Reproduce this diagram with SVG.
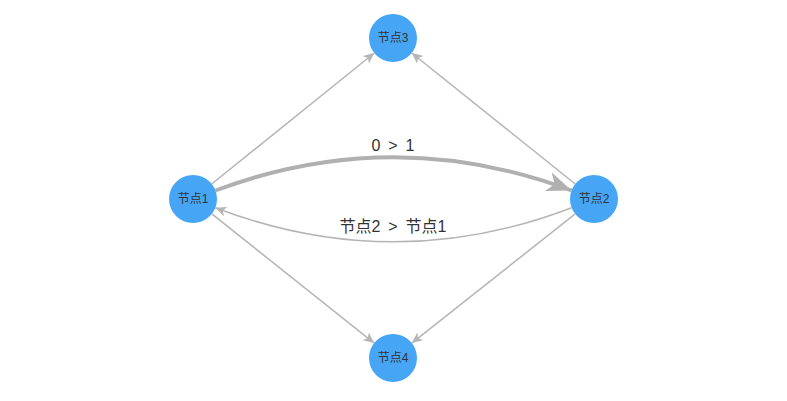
<svg xmlns="http://www.w3.org/2000/svg" width="787" height="401" viewBox="0 0 787 401">
  <style>
    .node circle { fill: #46a6f5; }
    .node text { font-family: "Liberation Sans", "Noto Sans CJK SC", sans-serif; font-size: 12px; fill: #333; text-anchor: middle; dominant-baseline: central; }
    .edge { fill: none; stroke: #b5b5b5; stroke-width: 1.5; }
    .edge.thick { stroke: #b0b0b0; stroke-width: 4; }
    .elabel { font-family: "Liberation Sans", "Noto Sans CJK SC", sans-serif; font-size: 16px; fill: #333; text-anchor: middle; word-spacing: 3.5px; }
  </style>
  <defs>
    <marker id="arrow" markerUnits="userSpaceOnUse" markerWidth="12" markerHeight="10" refX="11" refY="5" orient="auto">
      <path d="M0,0 L11,5 L0,10 L3,5 Z" fill="#b5b5b5"/>
    </marker>
    <marker id="arrow-big" markerUnits="userSpaceOnUse" markerWidth="26" markerHeight="20" refX="25" refY="10" orient="auto">
      <path d="M0,0 L25,10 L0,20 L7,10 Z" fill="#b0b0b0"/>
    </marker>
  </defs>

  <g id="connectors">
    <line class="edge" x1="211.7" y1="184" x2="374.3" y2="53" marker-end="url(#arrow)"/>
    <line class="edge" x1="575.3" y1="184" x2="411.7" y2="53" marker-end="url(#arrow)"/>
    <line class="edge" x1="211.8" y1="213.9" x2="374.2" y2="343.1" marker-end="url(#arrow)"/>
    <line class="edge" x1="575.2" y1="213.9" x2="411.8" y2="343.1" marker-end="url(#arrow)"/>
    <path class="edge thick" d="M215.4,190.5 Q393.5,124 571.6,190.5" marker-end="url(#arrow-big)"/>
    <path class="edge" d="M571.6,207.7 Q393.5,276 215.4,207.7" marker-end="url(#arrow)"/>
    <text class="elabel" x="393" y="151">0 &gt; 1</text>
    <text class="elabel" x="393" y="232">节点2 &gt; 节点1</text>
  </g>

  <g id="node1" class="node">
    <circle cx="193" cy="199" r="24"/>
    <text x="193" y="199">节点1</text>
  </g>
  <g id="node2" class="node">
    <circle cx="594" cy="199" r="24"/>
    <text x="594" y="199">节点2</text>
  </g>
  <g id="node3" class="node">
    <circle cx="393" cy="38" r="24"/>
    <text x="393" y="38">节点3</text>
  </g>
  <g id="node4" class="node">
    <circle cx="393" cy="358" r="24"/>
    <text x="393" y="358">节点4</text>
  </g>
</svg>
